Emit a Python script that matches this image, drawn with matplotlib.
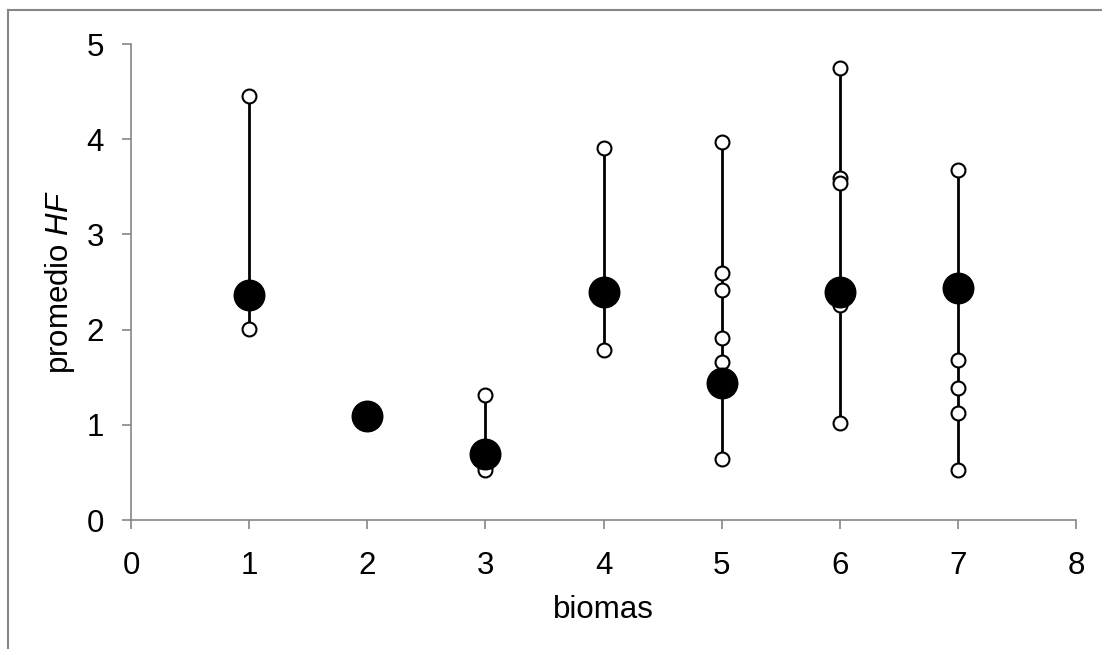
import matplotlib.pyplot as plt
from matplotlib.lines import Line2D

plt.rcParams['font.family'] = ['Liberation Sans', 'DejaVu Sans']
plt.rcParams['mathtext.fontset'] = 'custom'
plt.rcParams['mathtext.rm'] = 'Liberation Sans'
plt.rcParams['mathtext.it'] = 'Liberation Sans:italic'

# individual values per biome (open circles)
biomas = [1, 2, 3, 4, 5, 6, 7]
valores = [
    [4.45, 2.01],
    [],
    [1.31, 0.60, 0.56, 0.53],
    [3.91, 1.79],
    [3.97, 2.59, 2.42, 1.91, 1.66, 0.64],
    [4.75, 3.59, 3.54, 2.30, 2.26, 1.02],
    [3.68, 1.68, 1.39, 1.12, 0.52],
]
# mean per biome (filled circles)
promedios = [2.36, 1.09, 0.69, 2.40, 1.44, 2.40, 2.44]

fig = plt.figure(figsize=(11.02, 6.49), dpi=100)
ax = fig.add_axes([131 / 1102, 1 - 520 / 649, 945 / 1102, 476 / 649])

for b, vals in zip(biomas, valores):
    if vals:
        ax.plot([b, b], [min(vals), max(vals)], color='black', lw=2, zorder=2)
        ax.plot([b] * len(vals), vals, 'o', ms=10, mfc='white', mec='black',
                mew=1.5, zorder=3)

ax.plot(biomas, promedios, 'o', ms=22, color='black', zorder=4, ls='none')

ax.set_xlim(0, 8)
ax.set_ylim(0, 5)
ax.set_xticks(range(0, 9))
ax.set_yticks(range(0, 6))

grey = '#868686'
for s in ['top', 'right']:
    ax.spines[s].set_visible(False)
for s in ['left', 'bottom']:
    ax.spines[s].set_color(grey)
    ax.spines[s].set_linewidth(1.2)
ax.tick_params(axis='both', direction='out', length=6.5, width=1.2, color=grey,
               labelsize=22.5)
ax.tick_params(axis='y', pad=13)
ax.tick_params(axis='x', pad=16)

ax.set_xlabel('biomas', fontsize=22.5)
ax.set_ylabel(r'promedio $\mathit{HF}$', fontsize=22.5)
ax.xaxis.set_label_coords(0.5, -0.158)
ax.yaxis.set_label_coords(-0.057, 0.5)

# chart frame (cut at right and bottom)
fig.add_artist(Line2D([8 / 1102, 1], [1 - 10 / 649] * 2, color=grey, lw=1.5))
fig.add_artist(Line2D([8 / 1102] * 2, [0, 1 - 10 / 649], color=grey, lw=1.5))

plt.savefig('out.png', dpi=100)
